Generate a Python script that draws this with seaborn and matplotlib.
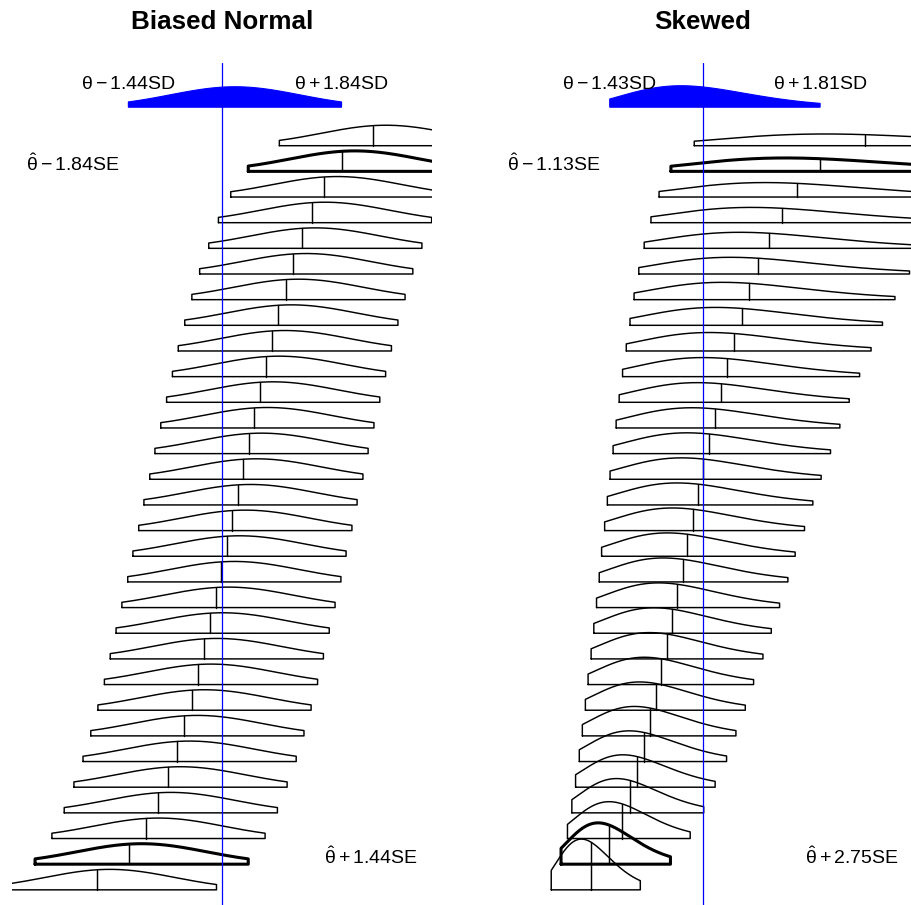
import math
import numpy as np
import matplotlib
matplotlib.use("Agg")
import matplotlib.pyplot as plt
import seaborn as sns

# ---------------- data (x in SD units relative to theta) ----------------
panel_titles = ["Biased Normal", "Skewed"]

# row estimates, top row first
normal_centers = [2.33, 1.85, 1.58, 1.39, 1.24, 1.10, 0.98, 0.87, 0.77, 0.68,
                  0.59, 0.50, 0.41, 0.33, 0.24, 0.16, 0.07, -0.01, -0.10, -0.19,
                  -0.28, -0.37, -0.47, -0.58, -0.70, -0.84, -0.99, -1.18, -1.44, -1.93]
skewed_centers = [2.50, 1.81, 1.46, 1.22, 1.02, 0.86, 0.72, 0.60, 0.49, 0.38,
                  0.28, 0.19, 0.10, 0.01, -0.07, -0.15, -0.24, -0.31, -0.39, -0.47,
                  -0.55, -0.64, -0.72, -0.81, -0.90, -1.01, -1.12, -1.25, -1.44, -1.73]
bold_rows = [2, 29]

# shape parameters
normal_bias = 0.2
normal_z_range = (-1.645, 1.645)
skew_origin = -3.0
skew_shape = 9.0
skew_g_range = (0.5217, 1.604)

# labels
sd_labels = [(r"$\theta - 1.44$SD", r"$\theta + 1.84$SD"),
             (r"$\theta - 1.43$SD", r"$\theta + 1.81$SD")]
sd_label_x = [(-1.445, 1.845), (-1.435, 1.81)]
se_labels = [(r"$\hat{\theta} - 1.84$SE", r"$\hat{\theta} + 1.44$SE"),
             (r"$\hat{\theta} - 1.13$SE", r"$\hat{\theta} + 2.75$SE")]
se_label_x = (-2.3, 2.3)

# ---------------- style ----------------
sns.set_style("white")
plt.rcParams["font.family"] = ["Liberation Sans", "DejaVu Sans"]
plt.rcParams["text.color"] = "black"
plt.rcParams["mathtext.fontset"] = "custom"
plt.rcParams["mathtext.rm"] = "Liberation Sans"
plt.rcParams["mathtext.it"] = "Liberation Sans"
plt.rcParams["mathtext.bf"] = "Liberation Sans:bold"

W, H = 911, 905
fig = plt.figure(figsize=(W / 100, H / 100), dpi=100)

K = 2.0          # height (row units) per unit density
NROW = len(normal_centers)
blue_base = NROW + 1.5
px_per_unit = 64.8
xlim = (-3.24, 3.24)
theta_px = [222.0, 702.7]
ax_top_px, ax_bot_px = 63.3, 905.0
row1_px, row_sp = 145.7, 25.66
y_top = NROW + (row1_px - ax_top_px) / row_sp
y_bot = NROW - (ax_bot_px - row1_px) / row_sp


def normal_pdf(z):
    return np.exp(-0.5 * z ** 2) / math.sqrt(2 * math.pi)


def gamma_pdf(g, a):
    return (a ** a) * g ** (a - 1) * np.exp(-a * g) / math.gamma(a)


def draw_outline(ax, x, d, base, lw, color="black"):
    px = np.concatenate([[x[0]], x, [x[-1], x[0]]])
    py = np.concatenate([[base], base + d, [base, base]])
    sns.lineplot(x=px, y=py, ax=ax, sort=False, estimator=None, color=color,
                 lw=lw, legend=False)


for p in range(2):
    left_px = theta_px[p] + xlim[0] * px_per_unit
    width_px = (xlim[1] - xlim[0]) * px_per_unit
    ax = fig.add_axes([left_px / W, 1 - ax_bot_px / H, width_px / W,
                       (ax_bot_px - ax_top_px) / H])
    ax.set_xlim(*xlim)
    ax.set_ylim(y_bot, y_top)
    ax.axis("off")

    centers = normal_centers if p == 0 else skewed_centers

    # blue sampling density on top
    if p == 0:
        z = np.linspace(normal_z_range[0], normal_z_range[1], 300)
        bx = normal_bias + z
        bd = K * normal_pdf(z)
    else:
        g = np.linspace(skew_g_range[0], skew_g_range[1], 300)
        s = 0.0 - skew_origin
        bx = skew_origin + s * g
        bd = K * gamma_pdf(g, skew_shape) / s
    ax.fill(np.concatenate([bx, [bx[-1], bx[0]]]),
            np.concatenate([blue_base + bd, [blue_base, blue_base]]),
            color="blue", lw=0.8, zorder=3)

    # rows
    for i, c in enumerate(centers, start=1):
        base = NROW + 1 - i
        lw = 2.2 if i in bold_rows else 1.05
        if p == 0:
            m = c + normal_bias
            z = np.linspace(normal_z_range[0], normal_z_range[1], 300)
            x = m + z
            d = K * normal_pdf(z)
            hc = K * normal_pdf(c - m)
        else:
            s = c - skew_origin
            g = np.linspace(skew_g_range[0], skew_g_range[1], 300)
            x = skew_origin + s * g
            d = K * gamma_pdf(g, skew_shape) / s
            hc = K * gamma_pdf(1.0, skew_shape) / s
        draw_outline(ax, x, d, base, lw)
        ax.plot([c, c], [base, base + hc], color="black", lw=1.05)

    # theta line
    ax.axvline(0, color="blue", lw=0.9, zorder=5)

    # labels
    for j in range(2):
        ax.text(sd_label_x[p][j], NROW + 2.2, sd_labels[p][j], ha="center",
                va="baseline", fontsize=14, color="black", clip_on=False)
    ax.text(se_label_x[0], NROW - 1, se_labels[p][0], ha="center",
            va="baseline", fontsize=14, color="black", clip_on=False)
    ax.text(se_label_x[1], 2, se_labels[p][1], ha="center",
            va="baseline", fontsize=14, color="black", clip_on=False)

    fig.text(theta_px[p] / W, 1 - 22 / H, panel_titles[p], ha="center",
             va="center", fontsize=18.7, fontweight="bold", color="black")

fig.savefig("out.png", dpi=100)
